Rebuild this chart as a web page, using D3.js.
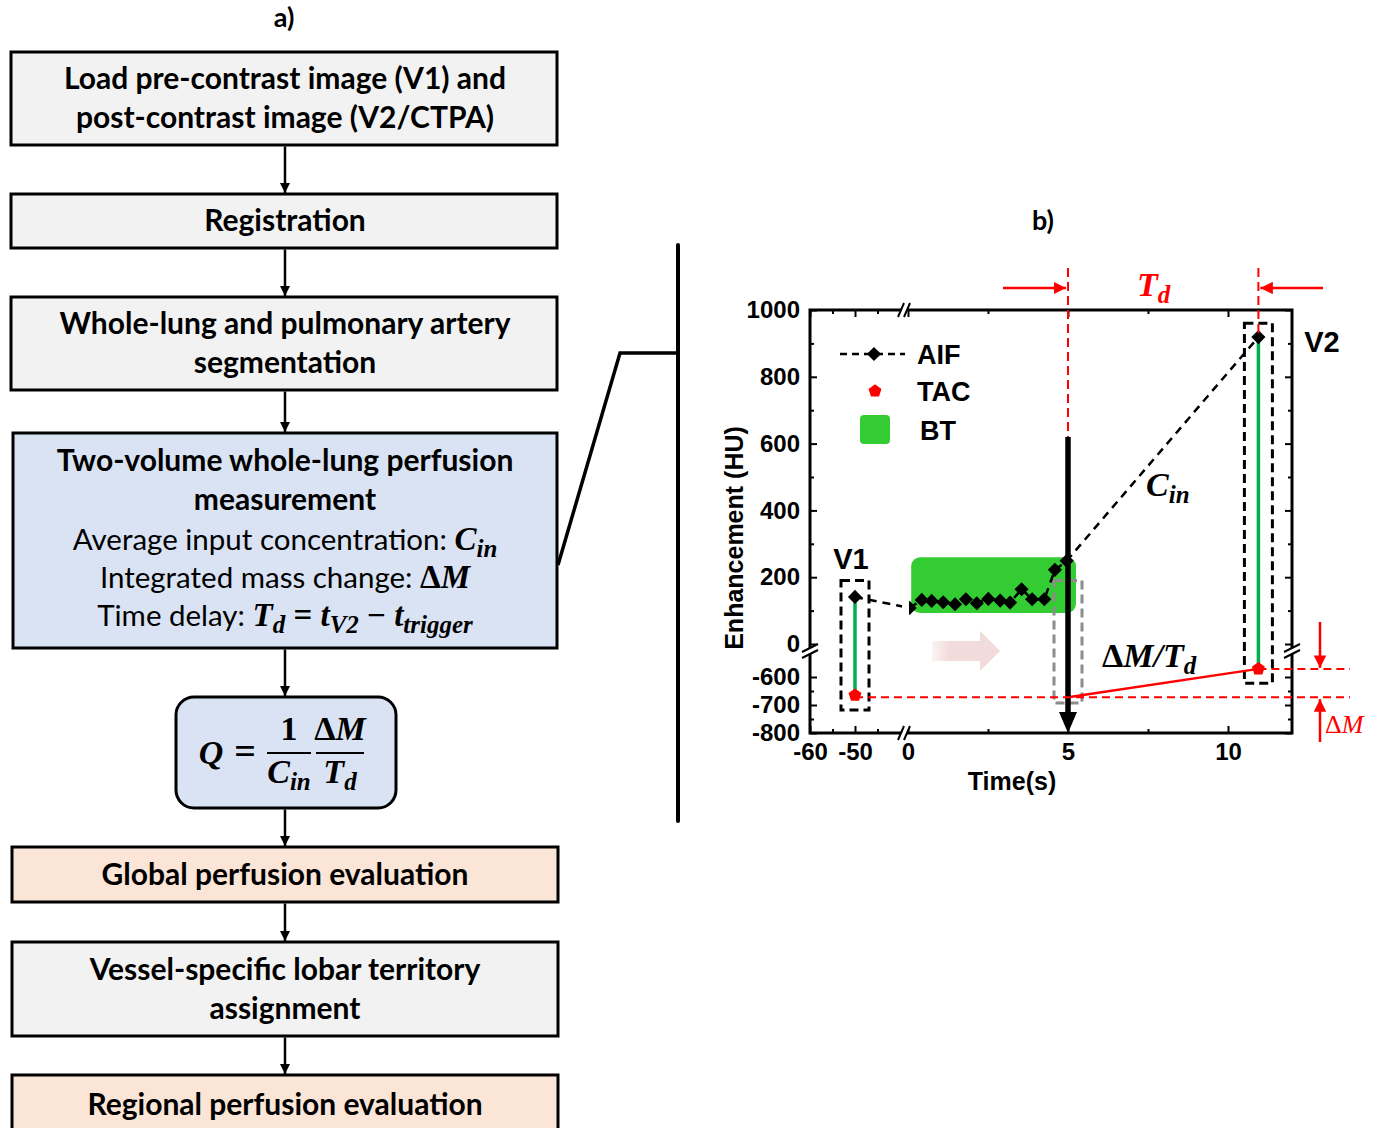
<!DOCTYPE html>
<html>
<head>
<meta charset="utf-8">
<script src="https://cdn.jsdelivr.net/npm/d3@7"></script>
<style>
  body { margin: 0; background: #fff; }
</style>
</head>
<body>
<div id="fig"></div>
<script>
// ---- data ----
// AIF samples (time in s, enhancement in HU); first = V1, last = V2
const aifTime = [-50, 0.05, 0.43, 0.74, 1.10, 1.47, 1.81, 2.15, 2.51, 2.88, 3.19, 3.55, 3.88, 4.26, 4.59, 4.96, 10.95];
const aifHU   = [141, 108, 132, 129, 125, 119, 134, 122, 135, 130, 124, 164, 134, 134, 222, 249, 919];
// TAC samples: V1, trigger, V2
const tacTime = [-50, 5, 10.95];
const tacHU   = [-665, -665, -571];
// bolus tracking window
const btTime = [0.1, 5.25];
const btHU   = [93, 260];

// axis ticks
const yMajorTop = [0, 200, 400, 600, 800, 1000];
const yMinorTop = [100, 300, 500, 700, 900];
const yMajorBot = [-800, -700, -600];
const yMinorBot = [-750, -650];
const xMajorL = [-60, -50];
const xMinorL = [-55, -45];
const xMajorR = [0, 5, 10];
const xMinorR = [2.5, 7.5];

// flowchart steps
const steps = [
  { lines: ["Load pre-contrast image (V1) and", "post-contrast image (V2/CTPA)"], fill: "#f2f2f2" },
  { lines: ["Registration"], fill: "#f2f2f2" },
  { lines: ["Whole-lung and pulmonary artery", "segmentation"], fill: "#f2f2f2" },
  { lines: ["Two-volume whole-lung perfusion", "measurement"], fill: "#dae3f3" },
  { lines: [], fill: "#dae3f3" },
  { lines: ["Global perfusion evaluation"], fill: "#fbe5d6" },
  { lines: ["Vessel-specific lobar territory", "assignment"], fill: "#f2f2f2" },
  { lines: ["Regional perfusion evaluation"], fill: "#fbe5d6" }
];

const W = 1380, H = 1128;
const sans = "Lato, 'Open Sans', sans-serif";
const math = "'Liberation Serif', 'DejaVu Serif', serif";
const arial = "'Liberation Sans', Arial, sans-serif";
const RED = "#ff0000";

const svg = d3.select("#fig").append("svg")
  .attr("width", W).attr("height", H)
  .attr("viewBox", `0 0 ${W} ${H}`);

const defs = svg.append("defs");
defs.append("marker").attr("id", "ahBlack")
  .attr("viewBox", "0 0 10 10").attr("refX", 10).attr("refY", 5)
  .attr("markerWidth", 4).attr("markerHeight", 4).attr("orient", "auto")
  .append("path").attr("d", "M0,0L10,5L0,10z").attr("fill", "#000");
defs.append("marker").attr("id", "ahRed")
  .attr("viewBox", "0 0 10 10").attr("refX", 10).attr("refY", 5)
  .attr("markerWidth", 5).attr("markerHeight", 5).attr("orient", "auto")
  .attr("markerUnits", "strokeWidth")
  .append("path").attr("d", "M0,0L10,5L0,10z").attr("fill", RED);

// writes a line made of plain and math pieces (up = upright math glyph)
function richText(g, x, y, parts, opt) {
  const t = g.append("text").attr("x", x).attr("y", y)
    .attr("text-anchor", opt.anchor || "middle")
    .attr("fill", opt.color || "#000");
  let shift = 0;
  parts.forEach(p => {
    const s = t.append("tspan").text(p.t);
    const want = p.sub ? opt.subDy : 0;
    if (want !== shift) { s.attr("dy", want - shift); shift = want; }
    if (p.m) {
      s.attr("font-family", math).attr("font-style", p.up ? "normal" : "italic")
        .attr("font-weight", p.nb ? "normal" : "bold")
        .attr("font-size", p.sub ? opt.subSize : opt.mathSize);
    } else {
      s.attr("font-family", opt.family || sans)
        .attr("font-weight", opt.weight || "normal")
        .attr("font-size", opt.size);
    }
  });
  return t;
}

// ================= panel a) =================
const fa = svg.append("g");
fa.append("text").attr("x", 284).attr("y", 27).attr("text-anchor", "middle")
  .attr("font-family", sans).attr("font-weight", "bold").attr("font-size", 27).text("a)");

const boxPos = [
  { x: 11, y: 52, w: 546, h: 93 },
  { x: 11, y: 194, w: 546, h: 54 },
  { x: 11, y: 297, w: 546, h: 93 },
  { x: 13, y: 433, w: 544, h: 215 },
  { x: 176, y: 697, w: 220, h: 111, r: 18 },
  { x: 12, y: 847, w: 546, h: 55 },
  { x: 12, y: 942, w: 546, h: 94 },
  { x: 12, y: 1075, w: 546, h: 60 }
];
const cx = 285;

boxPos.forEach((b, i) => {
  fa.append("rect").attr("x", b.x).attr("y", b.y).attr("width", b.w).attr("height", b.h)
    .attr("rx", b.r || 0).attr("fill", steps[i].fill)
    .attr("stroke", "#000").attr("stroke-width", 3);
  const n = steps[i].lines.length;
  const first = i === 3 ? b.y + 28 : b.y + b.h / 2 - (n - 1) * 19.5;
  steps[i].lines.forEach((ln, k) => {
    fa.append("text").attr("x", cx).attr("y", first + k * 39 + 10)
      .attr("text-anchor", "middle").attr("font-family", sans)
      .attr("font-weight", "bold").attr("font-size", 30).text(ln);
  });
  if (i < boxPos.length - 1) {
    const nb = boxPos[i + 1];
    fa.append("line").attr("x1", cx).attr("x2", cx)
      .attr("y1", b.y + b.h + 1.5).attr("y2", nb.y - 1)
      .attr("stroke", "#000").attr("stroke-width", 2.5)
      .attr("marker-end", "url(#ahBlack)");
  }
});

// formulas inside the measurement box
const mOpt = { size: 29.5, mathSize: 33, subSize: 25, subDy: 7 };
richText(fa, cx, 550, [{ t: "Average input concentration: " }, { t: "C", m: 1 }, { t: "in", m: 1, sub: 1 }], mOpt);
richText(fa, cx, 588, [{ t: "Integrated mass change: " }, { t: "Δ", m: 1, up: 1 }, { t: "M", m: 1 }], mOpt);
richText(fa, cx, 626, [{ t: "Time delay: " }, { t: "T", m: 1 }, { t: "d", m: 1, sub: 1 },
  { t: " = ", m: 1, up: 1 }, { t: "t", m: 1 }, { t: "V2", m: 1, sub: 1 }, { t: " − ", m: 1, up: 1 },
  { t: "t", m: 1 }, { t: "trigger", m: 1, sub: 1 }], mOpt);

// Q = 1/C_in * dM/T_d
const qOpt = { size: 33, mathSize: 34, subSize: 25, subDy: 7, anchor: "middle" };
richText(fa, 211, 764, [{ t: "Q", m: 1 }], qOpt);
fa.append("text").attr("x", 245).attr("y", 764).attr("text-anchor", "middle")
  .attr("font-family", math).attr("font-weight", "bold").attr("font-size", 38).text("=");
richText(fa, 289, 740, [{ t: "1", m: 1, up: 1 }], qOpt);
fa.append("line").attr("x1", 267).attr("x2", 311).attr("y1", 753).attr("y2", 753)
  .attr("stroke", "#000").attr("stroke-width", 2);
richText(fa, 289, 783, [{ t: "C", m: 1 }, { t: "in", m: 1, sub: 1 }], qOpt);
richText(fa, 340, 740, [{ t: "Δ", m: 1, up: 1 }, { t: "M", m: 1 }], qOpt);
fa.append("line").attr("x1", 316).attr("x2", 364).attr("y1", 753).attr("y2", 753)
  .attr("stroke", "#000").attr("stroke-width", 2);
richText(fa, 340, 783, [{ t: "T", m: 1 }, { t: "d", m: 1, sub: 1 }], qOpt);

// bracket joining the two panels
fa.append("line").attr("x1", 678).attr("x2", 678).attr("y1", 245).attr("y2", 821)
  .attr("stroke", "#000").attr("stroke-width", 4).attr("stroke-linecap", "round");
fa.append("path").attr("d", "M678,353L620,353L558,565")
  .attr("fill", "none").attr("stroke", "#000").attr("stroke-width", 3.5);

// ================= panel b) =================
const X0 = 810, X1 = 1292, Y0 = 310, Y1 = 733;
const xL = d3.scaleLinear([-60, -40], [810, 900]);
const xR = d3.scaleLinear([0, 12], [908, 1292]);
const yT = d3.scaleLinear([0, 1000], [644, 310]);
const yB = d3.scaleLinear([-800, -600], [733, 677]);
const xs = t => (t < -20 ? xL(t) : xR(t));
const ys = v => (v < -300 ? yB(v) : yT(v));

const fb = svg.append("g");
fb.append("text").attr("x", 1043).attr("y", 230).attr("text-anchor", "middle")
  .attr("font-family", sans).attr("font-weight", "bold").attr("font-size", 27).text("b)");

// clip: plot area minus the axis break gap
const clip = defs.append("clipPath").attr("id", "plotClip");
clip.append("rect").attr("x", X0).attr("y", 250).attr("width", 902 - X0).attr("height", 500);
clip.append("rect").attr("x", 909).attr("y", 250).attr("width", X1 - 909).attr("height", 500);

// axes (inward ticks)
const fmt = d => String(d);
function styleAxis(g) {
  g.select(".domain").remove();
  g.selectAll("line").attr("stroke", "#000").attr("stroke-width", 2);
  g.selectAll("text").attr("font-family", arial).attr("font-weight", "bold")
    .attr("font-size", 24).attr("fill", "#000");
}
function yAxis(scale, major, minor) {
  fb.append("g").attr("transform", `translate(${X0},0)`)
    .call(d3.axisLeft(scale).tickValues(major).tickSize(-7).tickPadding(10).tickFormat(fmt))
    .call(styleAxis);
  fb.append("g").attr("transform", `translate(${X0},0)`)
    .call(d3.axisLeft(scale).tickValues(minor).tickSize(-4).tickFormat(""))
    .call(styleAxis);
  fb.append("g").attr("transform", `translate(${X1},0)`)
    .call(d3.axisRight(scale).tickValues(major).tickSize(-7).tickFormat(""))
    .call(styleAxis);
  fb.append("g").attr("transform", `translate(${X1},0)`)
    .call(d3.axisRight(scale).tickValues(minor).tickSize(-4).tickFormat(""))
    .call(styleAxis);
}
yAxis(yT, yMajorTop, yMinorTop);
yAxis(yB, yMajorBot, yMinorBot);

function xAxis(scale, major, minor) {
  fb.append("g").attr("transform", `translate(0,${Y1})`)
    .call(d3.axisBottom(scale).tickValues(major).tickSize(-7).tickPadding(10).tickFormat(fmt))
    .call(styleAxis);
  fb.append("g").attr("transform", `translate(0,${Y1})`)
    .call(d3.axisBottom(scale).tickValues(minor).tickSize(-4).tickFormat(""))
    .call(styleAxis);
  fb.append("g").attr("transform", `translate(0,${Y0})`)
    .call(d3.axisTop(scale).tickValues(major).tickSize(-7).tickFormat(""))
    .call(styleAxis);
  fb.append("g").attr("transform", `translate(0,${Y0})`)
    .call(d3.axisTop(scale).tickValues(minor).tickSize(-4).tickFormat(""))
    .call(styleAxis);
}
xAxis(xL, xMajorL, xMinorL);
xAxis(xR, xMajorR, xMinorR);

fb.append("rect").attr("x", X0).attr("y", Y0).attr("width", X1 - X0).attr("height", Y1 - Y0)
  .attr("fill", "none").attr("stroke", "#000").attr("stroke-width", 3);

// axis break marks
function vBreak(x, y) {
  fb.append("path").attr("d", `M${x - 8},${y + 2}L${x + 8},${y - 6}L${x + 8},${y}L${x - 8},${y + 8}Z`)
    .attr("fill", "#fff");
  fb.append("path").attr("d", `M${x - 8},${y + 2}L${x + 8},${y - 6}M${x - 8},${y + 8}L${x + 8},${y}`)
    .attr("stroke", "#000").attr("stroke-width", 2);
}
function hBreak(x, y) {
  fb.append("path").attr("d", `M${x - 7},${y + 7}L${x - 1},${y - 7}L${x + 5},${y - 7}L${x - 1},${y + 7}Z`)
    .attr("fill", "#fff");
  fb.append("path").attr("d", `M${x - 7},${y + 7}L${x - 1},${y - 7}M${x - 1},${y + 7}L${x + 5},${y - 7}`)
    .attr("stroke", "#000").attr("stroke-width", 2);
}
vBreak(X0, 650);
vBreak(X1, 650);
hBreak(905, Y1);
hBreak(905, Y0);

// axis titles
fb.append("text").attr("transform", `translate(743,538) rotate(-90)`).attr("text-anchor", "middle")
  .attr("font-family", arial).attr("font-weight", "bold").attr("font-size", 25).text("Enhancement (HU)");
fb.append("text").attr("x", 1012).attr("y", 790).attr("text-anchor", "middle")
  .attr("font-family", arial).attr("font-weight", "bold").attr("font-size", 25).text("Time(s)");

const plot = fb.append("g").attr("clip-path", "url(#plotClip)");

// bolus tracking box
plot.append("rect")
  .attr("x", xs(btTime[0])).attr("y", ys(btHU[1]))
  .attr("width", xs(btTime[1]) - xs(btTime[0])).attr("height", ys(btHU[0]) - ys(btHU[1]))
  .attr("rx", 9).attr("fill", "#33cc33");

// pink direction arrow
const grad = defs.append("linearGradient").attr("id", "pinkGrad");
grad.append("stop").attr("offset", "0").attr("stop-color", "#f2dcdb").attr("stop-opacity", 0.3);
grad.append("stop").attr("offset", "0.25").attr("stop-color", "#f2dcdb").attr("stop-opacity", 1);
grad.append("stop").attr("offset", "1").attr("stop-color", "#f2dcdb").attr("stop-opacity", 1);
const pa = xs(0.75), pb = xs(2.25), pc = xs(2.88);
plot.append("path")
  .attr("d", `M${pa},641L${pb},641L${pb},631L${pc},651L${pb},671L${pb},661L${pa},661Z`)
  .attr("fill", "url(#pinkGrad)");

// vessel boxes
const vbox = (t, top, bot, color) => plot.append("rect")
  .attr("x", xs(t) - 14).attr("y", ys(top)).attr("width", 28).attr("height", ys(bot) - ys(top))
  .attr("fill", "none").attr("stroke", color).attr("stroke-width", 3).attr("stroke-dasharray", "9,5");
vbox(-50, 190, -718, "#000");
vbox(tacTime[1], 190, -693, "#8c8c8c");
vbox(10.95, 960, -622, "#000");

// green AIF-TAC difference lines at V1 and V2
[0, 2].forEach(i => {
  const ai = i === 0 ? 0 : aifTime.length - 1;
  plot.append("line").attr("x1", xs(tacTime[i])).attr("x2", xs(tacTime[i]))
    .attr("y1", ys(aifHU[ai])).attr("y2", ys(tacHU[i]))
    .attr("stroke", "#00b050").attr("stroke-width", 3.5);
});

// red dashed guide lines
fb.append("line").attr("x1", xs(tacTime[0])).attr("x2", 1350)
  .attr("y1", ys(tacHU[0]) + 2).attr("y2", ys(tacHU[0]) + 2)
  .attr("stroke", RED).attr("stroke-width", 2).attr("stroke-dasharray", "8,5");
fb.append("line").attr("x1", xs(tacTime[2])).attr("x2", 1350)
  .attr("y1", ys(tacHU[2])).attr("y2", ys(tacHU[2]))
  .attr("stroke", RED).attr("stroke-width", 2).attr("stroke-dasharray", "8,5");
fb.append("line").attr("x1", xs(tacTime[1])).attr("x2", xs(tacTime[1]))
  .attr("y1", 268).attr("y2", ys(620))
  .attr("stroke", RED).attr("stroke-width", 2).attr("stroke-dasharray", "9,5");
fb.append("line").attr("x1", xs(tacTime[2])).attr("x2", xs(tacTime[2]))
  .attr("y1", 268).attr("y2", ys(aifHU[aifHU.length - 1]))
  .attr("stroke", RED).attr("stroke-width", 2).attr("stroke-dasharray", "9,5");

// TAC slope line
plot.append("line").attr("x1", xs(tacTime[1])).attr("y1", ys(tacHU[1]) + 2)
  .attr("x2", xs(tacTime[2])).attr("y2", ys(tacHU[2]))
  .attr("stroke", RED).attr("stroke-width", 2.5);

// trigger arrow
plot.append("line").attr("x1", xs(5)).attr("x2", xs(5)).attr("y1", ys(620)).attr("y2", 716)
  .attr("stroke", "#000").attr("stroke-width", 5.5);
plot.append("path").attr("d", `M${xs(5) - 9},712L${xs(5) + 9},712L${xs(5)},733Z`).attr("fill", "#000");

// AIF dashed curve and markers
const aif = aifTime.map((t, i) => ({ t, v: aifHU[i] }));
plot.append("path").datum(aif)
  .attr("d", d3.line().x(d => xs(d.t)).y(d => ys(d.v)))
  .attr("fill", "none").attr("stroke", "#000").attr("stroke-width", 2.5).attr("stroke-dasharray", "8,6");
const diamond = d3.symbol().type(d3.symbolSquare).size(100);
plot.selectAll(".aif").data(aif).join("path")
  .attr("transform", d => `translate(${xs(d.t)},${ys(d.v)}) rotate(45)`)
  .attr("d", diamond).attr("fill", "#000");

// TAC pentagon markers
const pentagon = {
  draw(ctx, size) {
    const r = Math.sqrt(size / 2.378);
    for (let i = 0; i < 5; i++) {
      const a = -Math.PI / 2 + i * 2 * Math.PI / 5;
      i ? ctx.lineTo(r * Math.cos(a), r * Math.sin(a)) : ctx.moveTo(r * Math.cos(a), r * Math.sin(a));
    }
    ctx.closePath();
  }
};
const tac = [0, 2].map(i => ({ t: tacTime[i], v: tacHU[i] }));
plot.selectAll(".tac").data(tac).join("path")
  .attr("transform", d => `translate(${xs(d.t)},${ys(d.v)})`)
  .attr("d", d3.symbol().type(pentagon).size(110)).attr("fill", RED);

// legend
const lg = fb.append("g");
lg.append("line").attr("x1", 840).attr("x2", 905).attr("y1", 354).attr("y2", 354)
  .attr("stroke", "#000").attr("stroke-width", 2.5).attr("stroke-dasharray", "7,5");
lg.append("path").attr("transform", "translate(874,354) rotate(45)").attr("d", diamond).attr("fill", "#000");
lg.append("path").attr("transform", "translate(875,391)")
  .attr("d", d3.symbol().type(pentagon).size(110)).attr("fill", RED);
lg.append("rect").attr("x", 860).attr("y", 415).attr("width", 30).attr("height", 29).attr("rx", 4).attr("fill", "#33cc33");
[["AIF", 364], ["TAC", 401], ["BT", 440]].forEach(([s, y], i) => {
  lg.append("text").attr("x", i === 2 ? 920 : 917).attr("y", y)
    .attr("font-family", arial).attr("font-weight", "bold").attr("font-size", 27).text(s);
});

// labels
fb.append("text").attr("x", 851).attr("y", 569).attr("text-anchor", "middle")
  .attr("font-family", arial).attr("font-weight", "bold").attr("font-size", 29).text("V1");
fb.append("text").attr("x", 1322).attr("y", 352).attr("text-anchor", "middle")
  .attr("font-family", arial).attr("font-weight", "bold").attr("font-size", 29).text("V2");

const lOpt = { size: 30, mathSize: 34, subSize: 25, subDy: 7, anchor: "start" };
richText(fb, 1146, 496, [{ t: "C", m: 1 }, { t: "in", m: 1, sub: 1 }], lOpt);
richText(fb, 1102, 667, [{ t: "Δ", m: 1, up: 1 }, { t: "M/T", m: 1 }, { t: "d", m: 1, sub: 1 }], lOpt);
richText(fb, 1137, 296, [{ t: "T", m: 1 }, { t: "d", m: 1, sub: 1 }], Object.assign({ color: RED }, lOpt));
richText(fb, 1325, 733, [{ t: "Δ", m: 1, nb: 1, up: 1 }, { t: "M", m: 1, nb: 1 }],
  { size: 25, mathSize: 26, subSize: 18, subDy: 5, anchor: "start", color: RED });

// red arrows
const redArrow = (x1, y1, x2, y2) => fb.append("line")
  .attr("x1", x1).attr("y1", y1).attr("x2", x2).attr("y2", y2)
  .attr("stroke", RED).attr("stroke-width", 2.5).attr("marker-end", "url(#ahRed)");
redArrow(1003, 288, xs(5) - 2, 288);
redArrow(1323, 288, xs(10.95) + 2, 288);
redArrow(1320, 622, 1320, ys(tacHU[2]) - 1);
redArrow(1320, 742, 1320, ys(tacHU[0]) + 4);
</script>
</body>
</html>
